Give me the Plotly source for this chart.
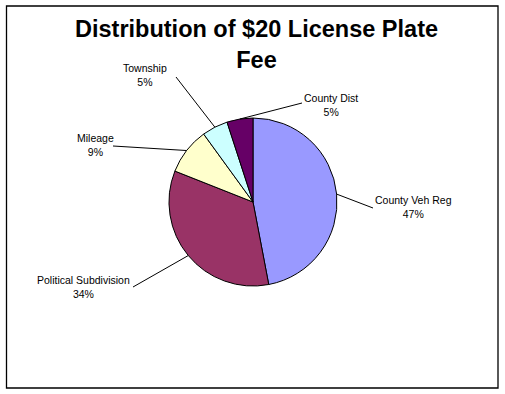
import math
import plotly.graph_objects as go

labels = ["County Veh Reg", "Political Subdivision", "Mileage", "Township", "County Dist"]
values = [47, 34, 9, 5, 5]
colors = ["#9999FF", "#993366", "#FFFFCC", "#CCFFFF", "#660066"]
title_lines = ["Distribution of $20 License Plate", "Fee"]

W, H = 505, 394
CX, CY, R = 253, 202, 84

# label layout (pixel positions): text center, leader start
label_pos = {
    "County Veh Reg": ((413, 207), (373, 208)),
    "Political Subdivision": ((83, 287), (133, 287)),
    "Mileage": ((95, 145), (113, 146)),
    "Township": ((145, 75), (176, 77)),
    "County Dist": ((331, 105), (302, 103)),
}

def px(x):
    return x / W

def py(y):
    return 1 - y / H

fig = go.Figure(go.Pie(
    labels=labels, values=values, sort=False, direction="clockwise", rotation=0,
    marker=dict(colors=colors, line=dict(color="black", width=1)),
    textinfo="none", hoverinfo="label+percent", showlegend=False,
    domain=dict(x=[px(CX - R), px(CX + R)], y=[py(CY + R), py(CY - R)]),
))

total = sum(values)
cum = 0
shapes = [dict(type="rect", xref="paper", yref="paper", x0=px(6.5), x1=px(498), y0=py(388), y1=py(6),
               line=dict(color="black", width=1.3), fillcolor="rgba(0,0,0,0)")]
annotations = []
for lab, v in zip(labels, values):
    mid = (cum + v / 2) / total * 2 * math.pi
    cum += v
    tx = CX + R * math.sin(mid)
    ty = CY - R * math.cos(mid)
    (lx, ly), (sx, sy) = label_pos[lab]
    shapes.append(dict(type="line", xref="paper", yref="paper", x0=px(sx), y0=py(sy), x1=px(tx), y1=py(ty),
                       line=dict(color="black", width=1)))
    pct = round(v / total * 100)
    annotations.append(dict(text=f"{lab}<br>{pct}%", x=px(lx), y=py(ly), xref="paper", yref="paper",
                            showarrow=False, xanchor="center", yanchor="middle",
                            font=dict(family="Liberation Sans, Arial", size=10.5, color="black")))

annotations.append(dict(text="<b>" + "<br>".join(title_lines) + "</b>", x=px(256), y=py(45), xref="paper", yref="paper",
                        showarrow=False, xanchor="center", yanchor="middle",
                        font=dict(family="Liberation Sans, Arial", size=23.5, color="black")))

fig.update_layout(width=W, height=H, margin=dict(l=0, r=0, t=0, b=0),
                  paper_bgcolor="white", plot_bgcolor="white",
                  shapes=shapes, annotations=annotations)
fig.write_html("out.html")
